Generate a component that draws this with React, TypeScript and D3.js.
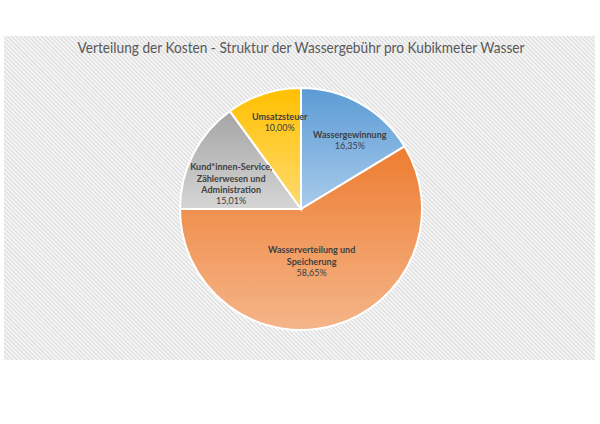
import * as d3 from "d3";

const categories = ["Wassergewinnung", "Wasserverteilung und Speicherung", "Kund*innen-Service, Zählerwesen und Administration", "Umsatzsteuer"];
const labelLines = [["Wassergewinnung"], ["Wasserverteilung und", "Speicherung"], ["Kund*innen-Service,", "Zählerwesen und", "Administration"], ["Umsatzsteuer"]];
const values = [16.35, 58.65, 15.01, 10.0];
const topColors = ["#5b9bd5", "#ed7d31", "#a5a5a5", "#ffc000"];
const bottomColors = ["#a9cbeb", "#f5b589", "#d6d6d6", "#ffdb70"];
const title = "Verteilung der Kosten - Struktur der Wassergebühr pro Kubikmeter Wasser";

const W = 600;
const H = 424;
const cx = 301;
const cy = 209;
const radius = 121;
const font = "Lato, 'Open Sans', sans-serif";

// label placement: fraction of radius along the slice's mid angle, plus a small nudge (px)
const labelRadius = [0.72, 0.45, 0.62, 0.73];
const labelNudge = [[6, 7], [-4, 0], [-3, 9], [6, -3]];

export default function App() {
    const pie = d3.pie<number>().sort(null).value(d => d);
    const arcs = pie(values);
    const arc = d3.arc<d3.PieArcDatum<number>>().innerRadius(0).outerRadius(radius);
    const fmt = (v: number) => v.toFixed(2).replace(".", ",") + "%";

    return <svg width={W} height={H} style={{position: "absolute", left: 0, top: 0}}>
        <defs>
            <pattern id="hatch" width="3" height="3" patternUnits="userSpaceOnUse" patternTransform="rotate(-45)">
                <rect width="3" height="3" fill="#f5f5f5"/>
                <line x1="0.5" y1="0" x2="0.5" y2="3" stroke="#d9d9d9" strokeWidth="1"/>
            </pattern>
            {arcs.map((a, i) => (
                <linearGradient key={i} id={`g${i}`} x1="0" y1="0" x2="0" y2="1">
                    <stop offset="0" stopColor={topColors[i]}/>
                    <stop offset="1" stopColor={bottomColors[i]}/>
                </linearGradient>
            ))}
        </defs>
        <rect x={0} y={0} width={W} height={H} fill="#fff"/>
        <rect x={4} y={36} width={591} height={324} fill="url(#hatch)"/>
        <text x={cx} y={53} textAnchor="middle" fontFamily={font} fontSize={16} fill="#595959"
              textLength={447} lengthAdjust="spacingAndGlyphs">{title}</text>
        <g transform={`translate(${cx},${cy})`}>
            {arcs.map((a, i) => (
                <path key={categories[i]} d={arc(a) ?? ""} fill={`url(#g${i})`} stroke="#fff" strokeWidth={2}/>
            ))}
            {arcs.map((a, i) => {
                const mid = (a.startAngle + a.endAngle) / 2;
                const r = radius * labelRadius[i];
                const x = Math.sin(mid) * r + labelNudge[i][0];
                const y = -Math.cos(mid) * r + labelNudge[i][1];
                const lines = labelLines[i];
                const lh = 11.2;
                const total = lines.length + 1;
                const y0 = y - (total - 1) * lh / 2;
                return <g key={i} fontFamily={font} fontSize={9} fill="#404040" textAnchor="middle">
                    {lines.map((l, j) => (
                        <text key={j} x={x} y={y0 + j * lh} dy="0.35em" fontWeight="bold">{l}</text>
                    ))}
                    <text x={x} y={y0 + lines.length * lh} dy="0.35em">{fmt(values[i])}</text>
                </g>;
            })}
        </g>
    </svg>;
}
